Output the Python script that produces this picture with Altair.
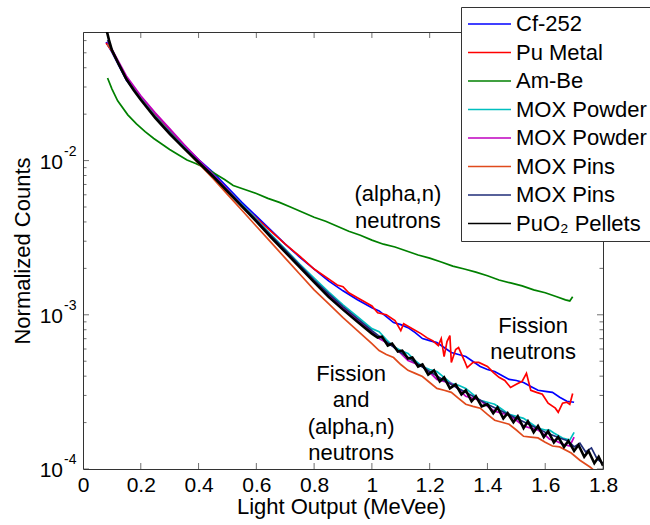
import altair as alt
import pandas as pd

FONT = "Liberation Sans"

# ---------------- data ----------------
SERIES = ["Cf-252", "Pu Metal", "Am-Be", "MOX Powder #1", "MOX Powder #2",
          "MOX Pins #1", "MOX Pins #2", "PuO\u2082 Pellets"]
COLORS = ["#0000FF", "#FF0000", "#008000", "#00BFBF", "#BF00BF",
          "#E04A1C", "#1F2D78", "#000000"]

cf_x = [0.08, 0.10, 0.15, 0.20, 0.25, 0.30, 0.35, 0.40, 0.45, 0.50, 0.55, 0.60,
        0.65, 0.70, 0.75, 0.80, 0.85, 0.90, 0.95, 1.00, 1.025, 1.05, 1.075, 1.10,
        1.125, 1.15, 1.175, 1.20, 1.225, 1.25, 1.275, 1.30, 1.325, 1.35, 1.375,
        1.40, 1.425, 1.45, 1.475, 1.50, 1.525, 1.55, 1.575, 1.60, 1.625, 1.65,
        1.675, 1.70]
cf_y = [0.0586, 0.0505, 0.0333, 0.0251, 0.0198, 0.0156, 0.0125, 0.01015, 0.00838,
        0.00670, 0.00536, 0.00436, 0.00354, 0.00287, 0.00237, 0.00198, 0.00166,
        0.00143, 0.00125, 0.00111, 0.00106, 0.000972, 0.000890, 0.000863,
        0.000825, 0.000766, 0.000701, 0.000680, 0.000660, 0.000613, 0.000569,
        0.000553, 0.000536, 0.000498, 0.000462, 0.000442, 0.000429, 0.000404,
        0.000381, 0.000375, 0.000364, 0.000343, 0.000324, 0.000319, 0.000314,
        0.000292, 0.000275, 0.000271]

pu_x = [0.08, 0.10, 0.15, 0.20, 0.25, 0.30, 0.35, 0.40, 0.45, 0.50, 0.55, 0.60,
        0.65, 0.70, 0.75, 0.80, 0.85, 0.88, 0.90, 0.92, 0.95, 0.97, 1.00, 1.02,
        1.05, 1.08, 1.10, 1.11, 1.14, 1.17, 1.19, 1.21, 1.23, 1.24, 1.25, 1.26,
        1.27, 1.275, 1.29, 1.30, 1.32, 1.33, 1.35, 1.37, 1.40, 1.42, 1.44, 1.46,
        1.48, 1.50, 1.52, 1.535, 1.55, 1.57, 1.59, 1.61, 1.635, 1.645, 1.66,
        1.675, 1.685, 1.695]
pu_y = [0.0578, 0.0513, 0.0343, 0.0259, 0.0201, 0.0159, 0.0125, 0.00987, 0.00789,
        0.00632, 0.00513, 0.00423, 0.00349, 0.00287, 0.00240, 0.00198, 0.00171,
        0.00156, 0.00152, 0.00139, 0.00129, 0.00123, 0.00114, 0.00103, 0.00100,
        0.000916, 0.000789, 0.000876, 0.000813, 0.000755, 0.000711, 0.000680,
        0.000632, 0.000701, 0.000536, 0.000670, 0.000733, 0.000491, 0.000595,
        0.000613, 0.000505, 0.000455, 0.000491, 0.000491, 0.000462, 0.000423,
        0.000393, 0.000375, 0.000338, 0.000354, 0.000370, 0.000417, 0.000324,
        0.000314, 0.000305, 0.000267, 0.000248, 0.000233, 0.000267, 0.000271,
        0.000263, 0.000309]

am_x = [0.085, 0.10, 0.12, 0.155, 0.185, 0.215, 0.245, 0.275, 0.30, 0.33, 0.36,
        0.39, 0.42, 0.45, 0.49, 0.52, 0.56, 0.60, 0.64, 0.68, 0.72, 0.76, 0.80,
        0.84, 0.88, 0.92, 0.96, 1.00, 1.04, 1.08, 1.12, 1.16, 1.20, 1.24, 1.28,
        1.32, 1.36, 1.40, 1.44, 1.48, 1.52, 1.56, 1.60, 1.64, 1.67, 1.685, 1.695]
am_y = [0.0343, 0.0292, 0.0244, 0.0198, 0.0173, 0.0154, 0.0139, 0.0127, 0.0118,
        0.0109, 0.0101, 0.00957, 0.00902, 0.00838, 0.00754, 0.00690, 0.00650,
        0.00612, 0.00569, 0.00536, 0.00498, 0.00462, 0.00429, 0.00404, 0.00375,
        0.00348, 0.00328, 0.00305, 0.00287, 0.00275, 0.00259, 0.00244, 0.00233,
        0.00220, 0.00207, 0.00198, 0.00189, 0.00179, 0.00168, 0.00161, 0.00154,
        0.00145, 0.00139, 0.00131, 0.00125, 0.00123, 0.00131]

mox_powder_x = [0.085, 0.10, 0.15, 0.20, 0.25, 0.30, 0.35, 0.40, 0.45, 0.50, 0.55,
                0.60, 0.65, 0.70, 0.75, 0.80, 0.85, 0.90, 0.95, 1.00, 1.025, 1.05,
                1.075, 1.10, 1.125, 1.15, 1.175, 1.20, 1.225, 1.25, 1.275, 1.30,
                1.325, 1.35, 1.375, 1.40, 1.425, 1.45, 1.475, 1.50, 1.525, 1.55,
                1.575, 1.60, 1.615, 1.63, 1.66, 1.685, 1.70]
mox_powder1_y = [0.0569, 0.0521, 0.0343, 0.0255, 0.0195, 0.0154, 0.0123, 0.0100,
                 0.00813, 0.00651, 0.00521, 0.00417, 0.00333, 0.00267, 0.00213,
                 0.00173, 0.00141, 0.00116, 0.000972, 0.000813, 0.000778, 0.000691,
                 0.000622, 0.000586, 0.000561, 0.000505, 0.000462, 0.000442,
                 0.000429, 0.000393, 0.000359, 0.000349, 0.000333, 0.000305,
                 0.000279, 0.000271, 0.000263, 0.000244, 0.000226, 0.000220,
                 0.000213, 0.000198, 0.000184, 0.000179, 0.000179, 0.000171,
                 0.000159, 0.000154, 0.000173]
mox_powder2_y = [0.0586, 0.0528, 0.0354, 0.0263, 0.0204, 0.0161, 0.0127, 0.01015,
                 0.00813, 0.00651, 0.00513, 0.00410, 0.00324, 0.00259, 0.00207,
                 0.00166, 0.00135, 0.00111, 0.000930, 0.000778, 0.000701, 0.000660,
                 0.000622, 0.000561, 0.000505, 0.000483, 0.000462, 0.000423,
                 0.000381, 0.000370, 0.000359, 0.000328, 0.000296, 0.000287,
                 0.000279, 0.000255, 0.000237, 0.000230, 0.000223, 0.000207,
                 0.000190, 0.000184, 0.000179, 0.000166, 0.000156, 0.000154,
                 0.000145, 0.000141, 0.000161]

mox_pins1_x = [0.085, 0.10, 0.15, 0.20, 0.25, 0.30, 0.35, 0.40, 0.45, 0.50, 0.55,
               0.60, 0.65, 0.70, 0.75, 0.80, 0.85, 0.90, 0.95, 1.00, 1.025, 1.05,
               1.075, 1.10, 1.125, 1.15, 1.175, 1.20, 1.225, 1.25, 1.275, 1.30,
               1.325, 1.35, 1.375, 1.40, 1.425, 1.45, 1.475, 1.50, 1.525, 1.55,
               1.575, 1.60, 1.625, 1.65, 1.69, 1.72, 1.755, 1.78]
mox_pins1_y = [0.0569, 0.0513, 0.0338, 0.0251, 0.0192, 0.0152, 0.0120, 0.00958,
               0.00766, 0.00604, 0.00476, 0.00375, 0.00296, 0.00233, 0.00184,
               0.00145, 0.00118, 0.000958, 0.000789, 0.000651, 0.000586, 0.000553,
               0.000528, 0.000476, 0.000436, 0.000417, 0.000398, 0.000364,
               0.000333, 0.000324, 0.000314, 0.000287, 0.000263, 0.000255,
               0.000248, 0.000226, 0.000207, 0.000201, 0.000195, 0.000179,
               0.000163, 0.000161, 0.000159, 0.000149, 0.000141, 0.000139,
               0.000127, 0.000114, 0.000103, 0.0000942]

mox_pins2_x = [0.085, 0.10, 0.15, 0.20, 0.25, 0.30, 0.35, 0.40, 0.45, 0.50, 0.55,
               0.60, 0.65, 0.70, 0.75, 0.80, 0.85, 0.90, 0.95, 1.00, 1.05, 1.10,
               1.15, 1.20, 1.25, 1.30, 1.35, 1.40, 1.45, 1.50, 1.55, 1.60, 1.65,
               1.68, 1.70, 1.72, 1.74, 1.76, 1.78, 1.80]
mox_pins2_y = [0.0604, 0.0521, 0.0338, 0.0251, 0.0192, 0.0152, 0.0121, 0.00987,
               0.00801, 0.00641, 0.00513, 0.00410, 0.00328, 0.00263, 0.00210,
               0.00168, 0.00137, 0.00113, 0.000944, 0.000789, 0.000670, 0.000569,
               0.000491, 0.000429, 0.000375, 0.000333, 0.000296, 0.000263,
               0.000237, 0.000213, 0.000192, 0.000173, 0.000159, 0.000152,
               0.000139, 0.000147, 0.000129, 0.000137, 0.000116, 0.000109]

puo2_x = [0.075, 0.09, 0.10, 0.125, 0.15, 0.175, 0.20, 0.25, 0.30, 0.35, 0.40, 0.45,
          0.50, 0.55, 0.60, 0.65, 0.70, 0.75, 0.80, 0.85, 0.90, 0.95,
          1.000, 1.020, 1.035, 1.055, 1.070, 1.090, 1.105, 1.125, 1.140, 1.160,
          1.175, 1.195, 1.215, 1.235, 1.250, 1.270, 1.290, 1.310, 1.325, 1.345,
          1.360, 1.380, 1.400, 1.420, 1.435, 1.455, 1.470, 1.490, 1.505, 1.525,
          1.540, 1.560, 1.575, 1.595, 1.610, 1.630, 1.645, 1.665, 1.680, 1.700,
          1.715, 1.735, 1.750, 1.770, 1.785, 1.800]
puo2_y = [0.0789, 0.0604, 0.0521, 0.0417, 0.0338, 0.0287, 0.0248, 0.0189, 0.0149,
          0.0120, 0.00972, 0.00789, 0.00632, 0.00505, 0.00404, 0.00319, 0.00255,
          0.00204, 0.00163, 0.00131, 0.00108, 0.000902,
          0.000755, 0.000711, 0.000722, 0.000632, 0.000651, 0.000578, 0.000586,
          0.000521, 0.000528, 0.000462, 0.000476, 0.000410, 0.000436, 0.000370,
          0.000393, 0.000333, 0.000354, 0.000305, 0.000324, 0.000275, 0.000296,
          0.000255, 0.000263, 0.000230, 0.000251, 0.000213, 0.000230, 0.000201,
          0.000220, 0.000184, 0.000204, 0.000173, 0.000190, 0.000161, 0.000176,
          0.000149, 0.000161, 0.000139, 0.000152, 0.000131, 0.000143, 0.000120,
          0.000131, 0.000109, 0.000120, 0.000105]

X_TICKS = [0, 0.2, 0.4, 0.6, 0.8, 1.0, 1.2, 1.4, 1.6, 1.8]
Y_MAJOR = [1e-4, 1e-3, 1e-2]
Y_MINOR = [2e-4, 3e-4, 4e-4, 5e-4, 6e-4, 7e-4, 8e-4, 9e-4,
           2e-3, 3e-3, 4e-3, 5e-3, 6e-3, 7e-3, 8e-3, 9e-3,
           2e-2, 3e-2, 4e-2, 5e-2, 6e-2]
Y_LABEL_BASE = ["10", "10", "10"]
Y_LABEL_EXP = ["-4", "-3", "-2"]

ANN_TEXT = ["(alpha,n)\nneutrons", "Fission\nneutrons",
            "Fission\nand\n(alpha,n)\nneutrons"]
ANN_X = [1.09, 1.558, 0.928]
ANN_Y = [0.00604, 0.000849, 0.000416]

# ---------------- build tables ----------------
series_data = [
    (SERIES[0], cf_x, cf_y),
    (SERIES[1], pu_x, pu_y),
    (SERIES[2], am_x, am_y),
    (SERIES[3], mox_powder_x, mox_powder1_y),
    (SERIES[4], mox_powder_x, mox_powder2_y),
    (SERIES[5], mox_pins1_x, mox_pins1_y),
    (SERIES[6], mox_pins2_x, mox_pins2_y),
    (SERIES[7], puo2_x, puo2_y),
]
frames = {name: pd.DataFrame({"series": name, "x": xs, "y": ys})
          for name, xs, ys in series_data}

W, H = 520, 437
xscale = alt.Scale(domain=[0, 1.8], nice=False, zero=False)
yscale = alt.Scale(type="log", domain=[1e-4, 0.0682], nice=False)
color_scale = alt.Scale(domain=SERIES, range=COLORS)

x_axis = alt.Axis(values=X_TICKS, format="~g", ticks=False, domain=False, grid=False,
                  labelFont=FONT, labelFontSize=21, labelColor="black",
                  labelPadding=5, labelFlush=False, labelOverlap=False,
                  title="Light Output (MeVee)", titleFont=FONT, titleFontSize=22,
                  titleFontWeight="normal", titleColor="black",
                  titleX=W / 2 - 2, titleY=37, titleBaseline="middle",
                  titleAlign="center")
y_axis = alt.Axis(labels=False, ticks=False, domain=False, grid=False,
                  title="Normalized Counts", titleFont=FONT, titleFontSize=22,
                  titleFontWeight="normal", titleColor="black",
                  titleX=-61, titleY=H / 2, titleAngle=-90,
                  titleBaseline="middle", titleAlign="center")

legend = alt.Legend(orient="none", legendX=378, legendY=-25, title=None,
                    symbolType="stroke", symbolSize=1849, symbolStrokeWidth=1.3,
                    labelFont=FONT, labelFontSize=22, labelColor="black",
                    labelExpr="split(datum.label, ' #')[0]", labelLimit=0,
                    labelOffset=4, fillColor="white", strokeColor="#333",
                    padding=6, clipHeight=22, rowPadding=6.5)

widths = {SERIES[7]: 2.6}
layers = []
for name in SERIES:
    layers.append(
        alt.Chart(frames[name]).mark_line(clip=True, strokeWidth=widths.get(name, 1.7))
        .encode(x=alt.X("x:Q", scale=xscale, axis=x_axis),
                y=alt.Y("y:Q", scale=yscale, axis=y_axis),
                color=alt.Color("series:N", scale=color_scale, legend=legend))
    )

xt = pd.DataFrame({"t": X_TICKS})
ymaj = pd.DataFrame({"v": Y_MAJOR})
ymin = pd.DataFrame({"v": Y_MINOR})
TICK_COLOR = "#333333"
for ypos in (0, H):
    layers.append(alt.Chart(xt).mark_tick(orient="vertical", size=12, thickness=1,
                                          color=TICK_COLOR, clip=True)
                  .encode(x=alt.X("t:Q", scale=xscale, axis=x_axis), y=alt.value(ypos)))
for xpos in (0, W):
    layers.append(alt.Chart(ymaj).mark_tick(orient="horizontal", size=12, thickness=1,
                                            color=TICK_COLOR, clip=True)
                  .encode(y=alt.Y("v:Q", scale=yscale, axis=y_axis), x=alt.value(xpos)))
    layers.append(alt.Chart(ymin).mark_tick(orient="horizontal", size=7, thickness=1,
                                            color=TICK_COLOR, clip=True)
                  .encode(y=alt.Y("v:Q", scale=yscale, axis=y_axis), x=alt.value(xpos)))

ylab = pd.DataFrame({"v": Y_MAJOR, "base": Y_LABEL_BASE, "exp": Y_LABEL_EXP})
layers.append(alt.Chart(ylab).mark_text(align="right", baseline="middle", dy=2,
                                        font=FONT, fontSize=21, color="black")
              .encode(y=alt.Y("v:Q", scale=yscale, axis=y_axis), x=alt.value(-20),
                      text="base:N"))
layers.append(alt.Chart(ylab).mark_text(align="left", baseline="middle", dy=-9,
                                        font=FONT, fontSize=14, color="black")
              .encode(y=alt.Y("v:Q", scale=yscale, axis=y_axis), x=alt.value(-19),
                      text="exp:N"))

ann = pd.DataFrame({"label": ANN_TEXT, "ax": ANN_X, "ay": ANN_Y})
layers.append(alt.Chart(ann).mark_text(lineBreak="\n", lineHeight=26.5, align="center",
                                       baseline="middle", font=FONT, fontSize=22,
                                       color="black")
              .encode(x=alt.X("ax:Q", scale=xscale, axis=x_axis),
                      y=alt.Y("ay:Q", scale=yscale, axis=y_axis), text="label:N"))

chart = alt.layer(*layers).properties(
    width=W, height=H,
    padding={"left": 83, "top": 32, "right": 47, "bottom": 56},
    autosize=alt.AutoSizeParams(type="none"),
    background="white",
).configure_view(stroke="#333333", strokeWidth=1)

chart.save("out.html", embed_options={"renderer": "svg", "actions": False})
